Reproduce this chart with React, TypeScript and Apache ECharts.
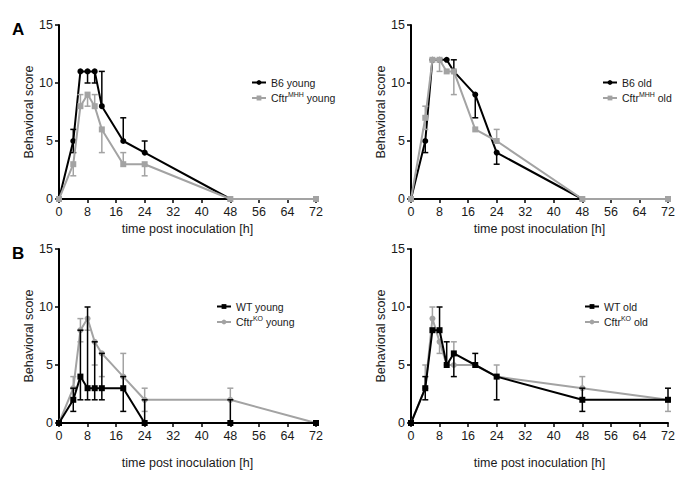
import React, { useEffect, useRef } from "react";
import * as echarts from "echarts";

// Time points (hours post inoculation)
const hours = [0, 4, 6, 8, 10, 12, 18, 24, 48, 72];
const xTicks = ["0", "8", "16", "24", "32", "40", "48", "56", "64", "72"];
const yTicks = ["0", "5", "10", "15"];

// Panel A left: young
const b6Young = [0, 5, 11, 11, 11, 8, 5, 4, 0, 0];
const b6YoungLo = [0, 4, 11, 10, 10, 8, 5, 4, 0, 0];
const b6YoungHi = [0, 6, 11, 11, 11, 11, 7, 5, 0, 0];
const mhhYoung = [0, 3, 8, 9, 8, 6, 3, 3, 0, 0];
const mhhYoungLo = [0, 2, 8, 8, 8, 4, 3, 2, 0, 0];
const mhhYoungHi = [0, 3, 9, 9, 9, 6, 4, 3, 0, 0];

// Panel A right: old
const b6Old = [0, 5, 12, 12, 12, 11, 9, 4, 0, 0];
const b6OldLo = [0, 4, 12, 12, 12, 11, 7, 3, 0, 0];
const b6OldHi = [0, 5, 12, 12, 12, 12, 9, 4, 0, 0];
const mhhOld = [0, 7, 12, 12, 11, 11, 6, 5, 0, 0];
const mhhOldLo = [0, 6, 12, 11, 11, 9, 6, 5, 0, 0];
const mhhOldHi = [0, 8, 12, 12, 11, 11, 6, 6, 0, 0];

// Panel B left: young
const wtYoung = [0, 2, 4, 3, 3, 3, 3, 0, 0, 0];
const wtYoungLo = [0, 1, 2, 2, 2, 2, 1, 0, 0, 0];
const wtYoungHi = [0, 3, 8, 10, 7, 6, 4, 2, 2, 0];
const koYoung = [0, 3, 8, 9, 7, 6, 4, 2, 2, 0];
const koYoungLo = [0, 3, 7, 8, 5, 4, 4, 1, 2, 0];
const koYoungHi = [0, 4, 9, 9, 7, 6, 6, 3, 3, 0];

// Panel B right: old
const wtOld = [0, 3, 8, 8, 5, 6, 5, 4, 2, 2];
const wtOldLo = [0, 2, 8, 8, 5, 4, 5, 2, 1, 2];
const wtOldHi = [0, 4, 8, 10, 7, 6, 6, 4, 3, 3];
const koOld = [0, 3, 9, 7, 5, 5, 5, 4, 3, 2];
const koOldLo = [0, 3, 9, 6, 5, 5, 5, 4, 3, 1];
const koOldHi = [0, 5, 10, 7, 5, 7, 5, 5, 4, 2];

const BLACK = "#000000";
const GRAY = "#a3a3a3";
const TEXT = "#1a1a1a";
const FONT = "Liberation Sans, Arial, sans-serif";

type Panel = {
  grid: { left: number; top: number };
  xNameGap: number;
  yNameGap: number;
  legendPos: { left: number; top: number };
  topColor: string;
  series: {
    name: string;
    color: string;
    symbol: string;
    y: number[];
    lo: number[];
    hi: number[];
  }[];
};

const panels: Panel[] = [
  {
    grid: { left: 59, top: 25 },
    xNameGap: 23,
    yNameGap: 24,
    legendPos: { left: 251, top: 77 },
    topColor: GRAY,
    series: [
      { name: "B6 young", color: BLACK, symbol: "circle", y: b6Young, lo: b6YoungLo, hi: b6YoungHi },
      { name: "Cftr^MHH young", color: GRAY, symbol: "rect", y: mhhYoung, lo: mhhYoungLo, hi: mhhYoungHi },
    ],
  },
  {
    grid: { left: 411, top: 25 },
    xNameGap: 23,
    yNameGap: 24,
    legendPos: { left: 602, top: 77 },
    topColor: GRAY,
    series: [
      { name: "B6 old", color: BLACK, symbol: "circle", y: b6Old, lo: b6OldLo, hi: b6OldHi },
      { name: "Cftr^MHH old", color: GRAY, symbol: "rect", y: mhhOld, lo: mhhOldLo, hi: mhhOldHi },
    ],
  },
  {
    grid: { left: 59, top: 249 },
    xNameGap: 33,
    yNameGap: 24,
    legendPos: { left: 216, top: 301 },
    topColor: BLACK,
    series: [
      { name: "WT young", color: BLACK, symbol: "rect", y: wtYoung, lo: wtYoungLo, hi: wtYoungHi },
      { name: "Cftr^KO young", color: GRAY, symbol: "circle", y: koYoung, lo: koYoungLo, hi: koYoungHi },
    ],
  },
  {
    grid: { left: 411, top: 249 },
    xNameGap: 33,
    yNameGap: 24,
    legendPos: { left: 584, top: 301 },
    topColor: BLACK,
    series: [
      { name: "WT old", color: BLACK, symbol: "rect", y: wtOld, lo: wtOldLo, hi: wtOldHi },
      { name: "Cftr^KO old", color: GRAY, symbol: "circle", y: koOld, lo: koOldLo, hi: koOldHi },
    ],
  },
];

function legendFormatter(name: string) {
  const m = name.match(/^(.*)\^(\S+)(.*)$/);
  if (m) return `{t|${m[1]}}{s|${m[2]}}{t|${m[3]}}`;
  return `{t|${name}}`;
}

function buildOption() {
  const grid: any[] = [];
  const xAxis: any[] = [];
  const yAxis: any[] = [];
  const legend: any[] = [];
  const series: any[] = [];

  panels.forEach((p, i) => {
    grid.push({ left: p.grid.left, top: p.grid.top, width: 257, height: 174, containLabel: false });
    xAxis.push({
      gridIndex: i,
      type: "value",
      min: 0,
      max: 72,
      interval: 8,
      name: "time post inoculation [h]",
      nameLocation: "middle",
      nameGap: p.xNameGap,
      nameTextStyle: { fontFamily: FONT, fontSize: 12.5, fontWeight: "normal", color: TEXT },
      axisLine: { show: true, onZero: false, lineStyle: { color: BLACK, width: 2 } },
      axisTick: { show: true, inside: false, length: 4, lineStyle: { color: BLACK, width: 1.5 } },
      axisLabel: {
        margin: 6,
        fontFamily: FONT,
        fontSize: 12.5,
        fontWeight: "normal",
        color: TEXT,
        formatter: (v: number) => (xTicks.includes(String(v)) ? String(v) : ""),
      },
      splitLine: { show: false },
    });
    yAxis.push({
      gridIndex: i,
      type: "value",
      min: 0,
      max: 15,
      interval: 5,
      name: "Behavioral score",
      nameLocation: "middle",
      nameRotate: 90,
      nameGap: p.yNameGap,
      nameTextStyle: { fontFamily: FONT, fontSize: 12.5, fontWeight: "normal", color: TEXT },
      axisLine: { show: true, lineStyle: { color: BLACK, width: 2 } },
      axisTick: { show: true, inside: false, length: 4, lineStyle: { color: BLACK, width: 1.5 } },
      axisLabel: {
        margin: 6,
        fontFamily: FONT,
        fontSize: 12.5,
        fontWeight: "normal",
        color: TEXT,
        formatter: (v: number) => (yTicks.includes(String(v)) ? String(v) : ""),
      },
      splitLine: { show: false },
    });

    legend.push({
      data: p.series.map((s) => s.name),
      left: p.legendPos.left,
      top: p.legendPos.top,
      orient: "vertical",
      itemGap: 3,
      itemWidth: 14,
      itemHeight: 6,
      padding: 0,
      selectedMode: false,
      formatter: legendFormatter,
      textStyle: {
        fontFamily: FONT,
        color: TEXT,
        rich: {
          t: { fontFamily: FONT, fontSize: 10.5, lineHeight: 14, color: TEXT },
          s: { fontFamily: FONT, fontSize: 7, lineHeight: 8, verticalAlign: "top", color: TEXT },
        },
      },
    });

    p.series.forEach((s) => {
      const color = s.color;
      const z = color === p.topColor ? 3 : 2;
      series.push({
        type: "line",
        name: s.name,
        xAxisIndex: i,
        yAxisIndex: i,
        data: hours.map((h, k) => [h, s.y[k]]),
        symbol: s.symbol,
        symbolSize: 6,
        showAllSymbol: true,
        color,
        itemStyle: { color },
        lineStyle: { color, width: 2 },
        z,
      });
      series.push({
        type: "custom",
        name: s.name + " error",
        color,
        xAxisIndex: i,
        yAxisIndex: i,
        silent: true,
        dimensions: ["x", "y", "lo", "hi"],
        encode: { x: 0, y: [1, 2, 3] },
        data: hours.map((h, k) => [h, s.y[k], s.lo[k], s.hi[k]]),
        renderItem: (params: any, api: any) => {
          const x = api.value(0);
          const y = api.value(1);
          const lo = api.value(2);
          const hi = api.value(3);
          const children: any[] = [];
          const pLo = api.coord([x, lo]);
          const pHi = api.coord([x, hi]);
          const st = { stroke: color, lineWidth: 1.5 };
          if (hi > lo) {
            children.push({ type: "line", shape: { x1: pLo[0], y1: pLo[1], x2: pHi[0], y2: pHi[1] }, style: st });
          }
          if (hi > y) {
            children.push({ type: "line", shape: { x1: pHi[0] - 3, y1: pHi[1], x2: pHi[0] + 3, y2: pHi[1] }, style: st });
          }
          if (lo < y) {
            children.push({ type: "line", shape: { x1: pLo[0] - 3, y1: pLo[1], x2: pLo[0] + 3, y2: pLo[1] }, style: st });
          }
          return { type: "group", children };
        },
        z,
      });
    });
  });

  return {
    animation: false,
    backgroundColor: "#ffffff",
    textStyle: { fontFamily: FONT },
    grid,
    xAxis,
    yAxis,
    legend,
    series,
    graphic: [
      { type: "text", left: 12, top: 21, style: { text: "A", fontFamily: FONT, fontSize: 17, fontWeight: "bold", fill: "#000" } },
      { type: "text", left: 12, top: 245, style: { text: "B", fontFamily: FONT, fontSize: 17, fontWeight: "bold", fill: "#000" } },
    ],
  };
}

export default function App() {
  const ref = useRef<HTMLDivElement>(null);
  useEffect(() => {
    const chart = echarts.init(ref.current!, null, { renderer: "svg" });
    chart.setOption(buildOption());
    return () => chart.dispose();
  }, []);
  return (
    <div
      ref={ref}
      style={{ position: "absolute", left: 0, top: 0, width: 685, height: 484, background: "#fff" }}
    />
  );
}
